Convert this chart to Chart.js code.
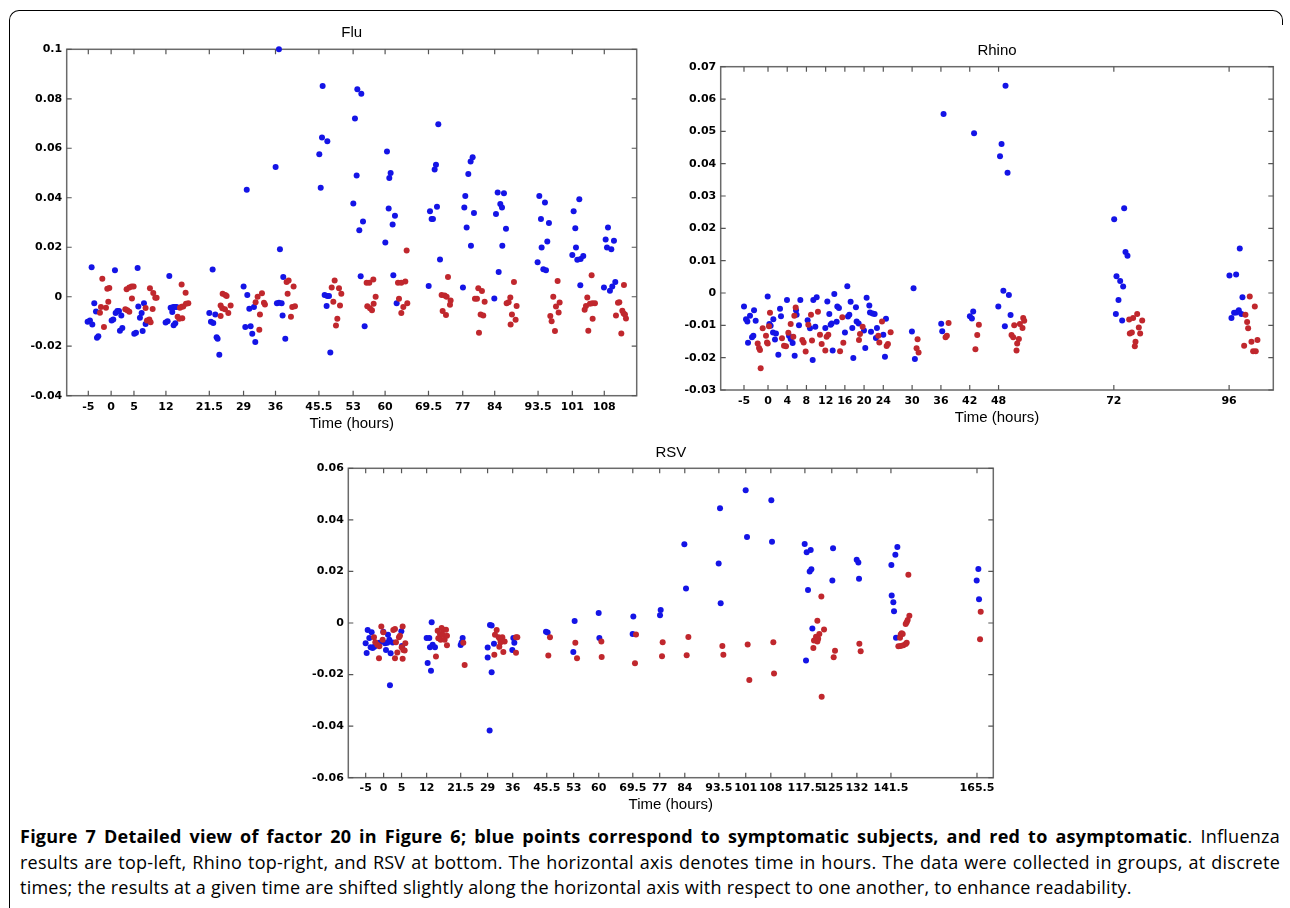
<!DOCTYPE html>
<html>
<head>
<meta charset="utf-8">
<script src="https://cdn.jsdelivr.net/npm/chart.js@4.4.1/dist/chart.umd.min.js"></script>
<style>
  html, body { margin: 0; padding: 0; background: #fff; }
  body { width: 1290px; height: 908px; position: relative; overflow: hidden; }
  .frame { position: absolute; left: 9px; top: 10px; width: 1260px; height: 905px;
           border-top: 1.5px solid #000; border-left: 1.5px solid #000; border-top-left-radius: 10px; }
  .corner { position: absolute; left: 1268px; top: 10px; width: 14px; height: 14px;
            border-top: 1.5px solid #000; border-right: 1.5px solid #000; border-top-right-radius: 10px; }
  .panel { position: absolute; }
  .caption { position: absolute; left: 20px; top: 824px; width: 1260px;
             font-family: "Open Sans", "Noto Sans", sans-serif; font-size: 18px; line-height: 25.7px;
             letter-spacing: 0.25px; color: #000; }
  .caption span.line { display: block; white-space: nowrap; }
</style>
</head>
<body>
<div class="frame"></div>
<div class="corner"></div>
<canvas id="flu" class="panel" width="640" height="420" style="left:10px;top:18px"></canvas>
<canvas id="rhino" class="panel" width="620" height="400" style="left:665px;top:36px"></canvas>
<canvas id="rsv" class="panel" width="712" height="380" style="left:292px;top:438px"></canvas>
<div class="caption">
  <span class="line fill"><b>Figure 7 Detailed view of factor 20 in Figure 6; blue points correspond to symptomatic subjects, and red to asymptomatic</b>. Influenza</span>
  <span class="line fill">results are top-left, Rhino top-right, and RSV at bottom. The horizontal axis denotes time in hours. The data were collected in groups, at discrete</span>
  <span class="line">times; the results at a given time are shifted slightly along the horizontal axis with respect to one another, to enhance readability.</span>
</div>
<script>
// sampling times (hours) used as axis ticks
const fluTicks = [-5, 0, 5, 12, 21.5, 29, 36, 45.5, 53, 60, 69.5, 77, 84, 93.5, 101, 108];
const rhinoTicks = [-5, 0, 4, 8, 12, 16, 20, 24, 30, 36, 42, 48, 72, 96];
const rsvTicks = [-5, 0, 5, 12, 21.5, 29, 36, 45.5, 53, 60, 69.5, 77, 84, 93.5, 101, 108, 117.5, 125, 132, 141.5, 165.5];

const fluYTicks = [-0.04, -0.02, 0, 0.02, 0.04, 0.06, 0.08, 0.1];
const rhinoYTicks = [-0.03, -0.02, -0.01, 0, 0.01, 0.02, 0.03, 0.04, 0.05, 0.06, 0.07];
const rsvYTicks = [-0.06, -0.04, -0.02, 0, 0.02, 0.04, 0.06];

// [time (h, jittered within group), factor 20 score]
const fluBlue = [
  [-4.27, 0.0119], [-5.15, -0.0101], [-4.64, -0.0096], [-4.12, -0.0112], [-3.69, -0.0026], [-3.32, -0.006], [-3.1, -0.0166], [-2.81, -0.016],
  [0.84, 0.0107], [0.11, -0.0096], [0.47, -0.0092], [0.99, -0.0066], [1.35, -0.0058], [1.72, -0.0058], [1.93, -0.0137], [2.45, -0.0126], [2.23, -0.0076],
  [5.8, 0.0116], [5.95, -0.0039], [6.31, -0.0085], [6.68, -0.0066], [7.19, -0.0026], [6.9, -0.0139], [7.55, -0.011], [5.07, -0.015], [5.44, -0.0146],
  [12.74, 0.0084], [11.93, -0.0104], [12.37, -0.0099], [13.03, -0.0045], [13.39, -0.0062], [13.61, -0.0042], [13.98, -0.0042], [14.34, -0.0042], [13.69, -0.0115], [14.05, -0.0107],
  [22.23, 0.011], [21.5, -0.0066], [21.86, -0.0101], [22.37, -0.0106], [22.81, -0.0072], [23.1, -0.0164], [23.32, -0.017], [23.69, -0.0234],
  [29.7, 0.0432], [29.01, 0.0041], [29.82, 0.0007], [29.38, -0.0122], [30.55, -0.0119], [30.26, -0.0049], [30.91, -0.015], [31.28, -0.0042], [31.57, -0.0183],
  [36.75, 0.1], [36.02, 0.0524], [36.97, 0.0192], [36.31, -0.0026], [36.75, -0.0024], [37.34, -0.0026], [37.7, 0.008], [37.55, -0.0076], [38.14, -0.017],
  [46.32, 0.0852], [46.18, 0.0644], [47.35, 0.0628], [45.59, 0.0576], [45.9, 0.044], [46.76, 0.0007], [47.35, 0.0003], [47.71, 0.0003], [47.19, -0.0037], [48.0, -0.0225],
  [53.92, 0.0839], [54.79, 0.082], [53.4, 0.072], [53.77, 0.049], [53.04, 0.0377], [55.16, 0.0304], [54.35, 0.0269], [54.65, 0.0083], [55.52, -0.0119],
  [60.41, 0.0587], [61.21, 0.05], [60.92, 0.048], [60.78, 0.0357], [62.16, 0.0327], [61.65, 0.0292], [60.05, 0.0219], [61.8, 0.0087], [62.53, -0.0026],
  [71.65, 0.0697], [71.14, 0.0533], [70.85, 0.0514], [69.83, 0.0345], [70.19, 0.0314], [70.48, 0.0314], [71.36, 0.0364], [72.02, 0.015], [69.54, 0.0043],
  [79.17, 0.0564], [78.73, 0.0547], [78.22, 0.0496], [77.56, 0.0407], [77.35, 0.0361], [79.46, 0.0338], [77.86, 0.028], [78.8, 0.0206], [77.05, 0.0037],
  [84.65, 0.0421], [86.03, 0.0418], [85.23, 0.0375], [85.6, 0.0361], [84.28, 0.0334], [86.47, 0.0275], [85.67, 0.0206], [84.87, 0.01], [83.92, -0.0007],
  [93.77, 0.0407], [95.01, 0.0381], [94.13, 0.0314], [95.88, 0.0298], [94.28, 0.0199], [95.52, 0.0223], [93.4, 0.0139], [94.65, 0.0111], [95.23, 0.0107],
  [102.53, 0.0394], [101.29, 0.0345], [101.65, 0.0277], [101.8, 0.0199], [101.0, 0.0169], [102.09, 0.0149], [102.82, 0.0152], [103.4, 0.0165], [102.75, 0.0046],
  [108.81, 0.028], [108.3, 0.0231], [110.12, 0.0226], [108.59, 0.0199], [109.54, 0.0192], [110.41, 0.006], [107.93, 0.0037], [109.24, 0.0024], [109.75, 0.0041]
];
const fluRed = [
  [-1.93, 0.0073], [-2.45, -0.0065], [-2.23, -0.0042], [-1.57, -0.0122], [-1.13, -0.0045], [-0.84, 0.0032], [-0.4, 0.0035], [-0.62, -0.002],
  [3.39, 0.003], [3.98, 0.0037], [4.49, 0.0041], [4.93, 0.0041], [4.56, -0.0007], [3.1, -0.0051], [3.54, -0.0055], [3.98, -0.0061],
  [8.5, 0.0034], [9.23, 0.0015], [9.67, -0.0004], [9.96, -0.0004], [7.55, -0.0046], [9.09, -0.005], [7.85, -0.0096], [8.36, -0.0092], [8.65, -0.0103],
  [15.44, 0.0049], [16.31, 0.0016], [16.9, -0.0026], [16.39, -0.0028], [15.8, -0.0039], [15.44, -0.0041], [15.07, -0.0045], [14.56, -0.0081], [14.93, -0.0089], [15.58, -0.0087],
  [24.42, 0.0012], [25.0, 0.0007], [25.29, 0.0003], [23.98, -0.0035], [24.34, -0.0047], [26.17, -0.0035], [24.93, -0.0051], [25.66, -0.0066], [23.98, -0.0078],
  [32.08, 0.0], [33.03, 0.0014], [31.64, -0.0022], [33.47, -0.0024], [33.69, -0.0031], [32.59, -0.0072], [32.45, -0.0133],
  [38.43, 0.006], [38.87, 0.0066], [39.96, 0.0041], [38.65, 0.0012], [39.67, -0.0042], [40.26, -0.0038], [39.38, -0.0081],
  [48.95, 0.0066], [48.3, 0.0037], [49.9, 0.0034], [50.41, 0.0012], [48.66, -0.002], [50.12, -0.0035], [49.54, -0.0089], [49.24, -0.0116],
  [55.96, 0.0057], [56.54, 0.0057], [57.42, 0.007], [57.93, 0.0], [56.1, -0.0038], [56.69, -0.0047], [57.13, -0.0055], [57.49, -0.0028],
  [64.72, 0.0187], [62.82, 0.0057], [63.55, 0.0057], [64.43, 0.0062], [63.04, -0.0008], [64.86, -0.0026], [63.99, -0.0042], [63.55, -0.0066],
  [73.77, 0.008], [72.38, 0.0007], [73.04, 0.0005], [73.48, 0.0], [74.35, -0.0015], [74.21, -0.0032], [72.6, -0.0058], [73.33, -0.0074],
  [80.41, 0.0034], [81.21, 0.0023], [79.68, -0.0008], [80.12, -0.0008], [81.8, -0.002], [80.92, -0.0072], [81.5, -0.0076], [80.56, -0.0146],
  [88.22, 0.006], [87.42, -0.0003], [86.62, -0.0026], [87.05, -0.0022], [88.8, -0.0037], [87.78, -0.0072], [88.58, -0.0093], [87.49, -0.0112],
  [97.78, 0.0064], [96.83, 0.0], [98.22, -0.0023], [97.42, -0.0039], [98.0, -0.0064], [96.18, -0.0078], [96.47, -0.0099], [97.2, -0.0139],
  [105.23, 0.0087], [104.28, -0.0003], [104.86, -0.0028], [105.38, -0.0026], [105.96, -0.0026], [103.99, -0.0037], [103.7, -0.0053], [105.45, -0.0089], [104.5, -0.0137],
  [112.31, 0.0047], [111.29, -0.0022], [111.0, -0.0024], [111.95, -0.0057], [112.24, -0.0068], [112.75, -0.0088], [112.53, -0.0072], [110.56, -0.0076], [111.73, -0.0149]
];

const rhinoBlue = [
  [-5.0, -0.0042], [-4.58, -0.0081], [-4.3, -0.0088], [-3.75, -0.007], [-4.16, -0.0154], [-3.33, -0.0137], [-3.05, -0.0132], [-2.91, -0.0053], [-2.57, -0.0086],
  [-0.07, -0.0011], [0.28, -0.0096], [0.55, -0.0101], [1.11, -0.0081], [1.04, -0.0122], [1.66, -0.0125], [1.45, -0.0144], [2.15, -0.0191], [2.5, -0.0049], [2.7, -0.0072],
  [3.95, -0.0022], [4.37, -0.0132], [4.72, -0.0142], [5.13, -0.0155], [5.55, -0.0194], [5.83, -0.0053], [5.96, -0.0067], [6.45, -0.01], [6.73, -0.0022],
  [8.25, -0.0084], [8.74, -0.0109], [9.3, -0.0207], [9.43, -0.0022], [10.13, -0.0013], [9.85, -0.0104],
  [11.93, -0.0108], [12.35, -0.0026], [12.76, -0.0065], [13.04, -0.0098], [13.25, -0.0094], [13.46, -0.0178], [13.8, -0.0003], [14.29, -0.0089], [14.43, -0.0042], [14.77, -0.0046],
  [16.02, -0.0122], [16.51, 0.0021], [16.65, -0.0073], [16.93, -0.0067], [17.2, -0.0027], [17.55, -0.0108], [17.76, -0.0201], [18.31, -0.0044], [18.45, -0.0088], [18.87, -0.0094],
  [19.98, -0.0116], [20.25, -0.017], [20.53, -0.0015], [21.09, -0.0039], [21.23, -0.006], [21.78, -0.0063], [22.2, -0.0065], [21.44, -0.012], [22.47, -0.0139], [22.68, -0.0108],
  [24.0, -0.0129], [24.35, -0.0197], [24.56, -0.008],
  [30.3, 0.0015], [29.96, -0.0119], [30.58, -0.0204],
  [36.55, 0.0554], [36.06, -0.0095], [36.27, -0.0118],
  [42.9, 0.0494], [42.72, -0.0057], [42.03, -0.0072], [42.45, -0.0079],
  [49.45, 0.0641], [48.62, 0.0461], [48.3, 0.0423], [49.87, 0.0372], [49.0, 0.0007], [50.15, -0.0006], [47.95, -0.0042], [50.5, -0.0068], [49.31, -0.0103],
  [72.07, 0.0228], [74.15, 0.0262], [74.43, 0.0127], [74.84, 0.0115], [72.55, 0.0052], [73.32, 0.0037], [73.94, 0.002], [72.97, -0.0022], [72.42, -0.0065], [73.73, -0.0085],
  [98.22, 0.0138], [96.07, 0.0054], [97.46, 0.0057], [98.78, -0.0013], [98.02, -0.0053], [97.53, -0.006], [97.04, -0.0061], [98.57, -0.0065], [96.49, -0.0077]
];
const rhinoRed = [
  [-2.15, -0.0156], [-1.87, -0.017], [-1.67, -0.0176], [-1.53, -0.0233], [-1.11, -0.0109], [-0.42, -0.0132], [-0.21, -0.0153], [-0.07, -0.0156], [0.41, -0.0061], [0.2, -0.0103],
  [2.91, -0.014], [3.33, -0.0163], [3.75, -0.0165], [4.23, -0.0123], [4.72, -0.0096], [5.27, -0.0135], [5.48, -0.007], [5.76, -0.0045],
  [7.14, -0.0145], [7.42, -0.0153], [7.84, -0.0181], [8.39, -0.0098], [8.95, -0.0067], [9.16, -0.0147],
  [10.4, -0.0058], [10.82, -0.0129], [11.17, -0.0158], [11.93, -0.0178], [12.2, -0.0135], [12.55, -0.0129],
  [15.0, -0.018], [15.47, -0.0075], [15.68, -0.0154],
  [18.94, -0.0145], [19.15, -0.0127], [19.7, -0.0104],
  [22.96, -0.0132], [23.17, -0.0153], [23.73, -0.0088], [24.7, -0.0164], [24.97, -0.0158], [25.53, -0.0121],
  [31.14, -0.0143], [30.93, -0.0171], [31.35, -0.0184],
  [37.59, -0.0093], [37.24, -0.0132], [36.97, -0.0137],
  [43.9, -0.0098], [43.56, -0.013], [43.18, -0.0174],
  [51.26, -0.01], [52.44, -0.0096], [53.13, -0.0077], [53.34, -0.0086], [52.99, -0.0108], [50.7, -0.013], [51.05, -0.0137], [52.23, -0.0142], [51.88, -0.0156], [51.74, -0.0178],
  [76.86, -0.0065], [76.02, -0.0077], [75.19, -0.0082], [77.9, -0.0085], [77.2, -0.0107], [75.33, -0.0125], [75.75, -0.0122], [77.48, -0.0125], [76.51, -0.0151], [76.37, -0.0165],
  [100.3, -0.0011], [101.35, -0.0042], [99.4, -0.0067], [99.75, -0.009], [99.96, -0.0109], [101.9, -0.0145], [100.65, -0.0151], [99.13, -0.0163], [101.0, -0.018], [101.55, -0.018]
];

const rsvBlue = [
  [-5.01, -0.0079], [-4.73, -0.0116], [-4.45, -0.0027], [-3.99, -0.0058], [-3.62, -0.0094], [-3.06, -0.0097], [-2.6, -0.0092], [-3.34, -0.0036], [-1.2, -0.0077],
  [-0.08, -0.0034], [0.38, -0.0079], [1.03, -0.0077], [0.66, -0.0105], [1.22, -0.0046], [1.59, -0.0065], [1.96, -0.0117], [1.77, -0.0241], [2.52, -0.0076], [4.94, -0.0032], [5.12, -0.0089],
  [12.0, -0.0058], [12.74, -0.0058], [13.4, 0.0003], [12.93, -0.0094], [13.68, -0.0084], [14.33, -0.0094], [12.28, -0.0155], [13.21, -0.0185],
  [22.04, -0.0058], [21.49, -0.0085], [21.76, -0.0076],
  [29.67, -0.0008], [30.13, -0.001], [29.02, -0.0095], [29.02, -0.0134], [30.78, -0.008], [30.13, -0.0191], [29.57, -0.0417],
  [36.18, -0.0058], [36.46, -0.0077], [35.9, -0.0105],
  [45.29, -0.0034], [45.75, -0.0037],
  [53.28, 0.0008], [52.91, -0.0112],
  [59.98, 0.0039], [60.17, -0.0058],
  [69.65, 0.0025], [69.46, -0.0043],
  [77.28, 0.005], [77.09, 0.003],
  [83.88, 0.0305], [84.34, 0.0134],
  [93.83, 0.0445], [93.45, 0.0231], [94.01, 0.0077],
  [100.98, 0.0515], [101.36, 0.0334],
  [108.14, 0.0476], [108.33, 0.0315],
  [117.44, 0.0306], [118.0, 0.0274], [119.12, 0.0283], [118.84, 0.02], [119.3, 0.0208], [118.37, 0.0128], [119.58, -0.0021], [117.81, -0.0145],
  [125.35, 0.029], [125.16, 0.0165],
  [131.95, 0.0245], [132.41, 0.0235], [132.6, 0.0172],
  [143.29, 0.0295], [142.73, 0.0265], [141.62, 0.0225], [141.71, 0.0107], [142.17, 0.008], [142.36, 0.0046], [142.92, -0.0057],
  [165.88, 0.0209], [165.42, 0.0165], [166.07, 0.0092]
];
const rsvRed = [
  [-2.69, -0.0055], [-2.32, -0.0075], [-1.76, -0.0084], [-1.2, -0.009], [-1.29, -0.0137], [-0.64, -0.0014], [-0.27, -0.0065], [-0.08, -0.0036],
  [2.7, -0.0027], [3.17, -0.0023], [3.45, -0.0075], [3.82, -0.0114], [3.17, -0.0137], [4.28, -0.0055], [4.56, -0.0049], [5.31, -0.0014], [5.03, -0.0094], [5.49, -0.0105], [5.87, -0.0107], [5.31, -0.0139], [6.05, -0.0079],
  [14.6, -0.013], [15.07, -0.003], [15.72, -0.0043], [16.18, -0.0019], [16.65, -0.0026], [17.4, -0.0026], [15.26, -0.0059], [15.91, -0.0065], [16.46, -0.0046], [17.02, -0.0065], [17.67, -0.0049], [17.67, -0.0086],
  [22.23, -0.0077], [22.6, -0.0163],
  [31.53, -0.0027], [31.06, -0.0046], [32.08, -0.0055], [33.11, -0.0055], [32.64, -0.0075], [32.27, -0.0092], [33.39, -0.0112], [30.88, -0.0123], [33.76, -0.0072], [32.46, -0.0062],
  [36.92, -0.0055], [37.29, -0.0055], [36.92, -0.0115],
  [46.4, -0.0055], [45.94, -0.0126],
  [53.47, -0.0077], [53.94, -0.0137],
  [60.73, -0.0072], [60.82, -0.0132],
  [70.39, -0.0045], [70.11, -0.0156],
  [77.83, -0.0075], [77.65, -0.0129],
  [85.0, -0.0054], [84.53, -0.0125],
  [94.48, -0.0089], [94.76, -0.0123],
  [101.54, -0.0083], [102.0, -0.0221],
  [108.7, -0.0075], [108.89, -0.0196],
  [122.09, 0.0103], [120.98, 0.0009], [122.84, -0.0025], [121.53, -0.0043], [120.6, -0.0053], [120.04, -0.0068], [120.98, -0.0072], [119.86, -0.0097], [122.18, -0.0286], [121.2, -0.0061],
  [125.9, -0.0108], [125.53, -0.0133],
  [132.69, -0.008], [133.06, -0.011],
  [146.36, 0.0187], [146.64, 0.0028], [146.17, 0.0012], [145.9, 0.0003], [145.62, -0.0004], [144.5, -0.004], [144.22, -0.0045], [144.78, -0.0043], [144.03, -0.0057],
  [143.57, -0.009], [144.22, -0.0089], [144.97, -0.0086], [145.62, -0.0081], [145.9, -0.0077],
  [166.54, 0.0044], [166.35, -0.0063]
];

const BLUE = '#1414e6';
const RED = '#c0272d';
const TICK_FONT = { family: '"DejaVu Sans", sans-serif', size: 11, weight: 'bold' };
const LABEL_FONT = { family: '"Liberation Sans", Arial, sans-serif', size: 15 };

// box with inward ticks on all four sides, plus the panel title
const boxPlugin = {
  id: 'boxPlugin',
  beforeDatasetsDraw(chart, args, opts) {
    const { ctx, chartArea: a } = chart;
    const x = chart.scales.x, y = chart.scales.y;
    ctx.save();
    ctx.strokeStyle = '#6a6a6a';
    ctx.lineWidth = 1.5;
    ctx.strokeRect(a.left, a.top, a.right - a.left, a.bottom - a.top);
    ctx.strokeStyle = '#555';
    ctx.lineWidth = 1.2;
    ctx.beginPath();
    x.ticks.forEach(t => {
      const px = x.getPixelForValue(t.value);
      ctx.moveTo(px, a.bottom); ctx.lineTo(px, a.bottom - 5);
      ctx.moveTo(px, a.top); ctx.lineTo(px, a.top + 5);
    });
    y.ticks.forEach(t => {
      const py = y.getPixelForValue(t.value);
      ctx.moveTo(a.left, py); ctx.lineTo(a.left + 5, py);
      ctx.moveTo(a.right, py); ctx.lineTo(a.right - 5, py);
    });
    ctx.stroke();
    ctx.fillStyle = '#000';
    ctx.font = '15px "Liberation Sans", Arial, sans-serif';
    ctx.textAlign = 'center';
    ctx.textBaseline = 'middle';
    ctx.fillText(opts.text, (a.left + a.right) / 2, a.top - opts.gap);
    ctx.restore();
  }
};

function drawPanel(id, title, blue, red, xTicks, yTicks, xMin, xMax, box) {
  const pts = arr => arr.map(p => ({ x: p[0], y: p[1] }));
  return new Chart(document.getElementById(id), {
    type: 'scatter',
    data: {
      datasets: [
        { data: pts(red), backgroundColor: RED, borderWidth: 0, pointRadius: 3, clip: false },
        { data: pts(blue), backgroundColor: BLUE, borderWidth: 0, pointRadius: 3, clip: false }
      ]
    },
    options: {
      responsive: false,
      animation: false,
      events: [],
      layout: { padding: { top: box.top, right: box.right, left: 0, bottom: 0 } },
      plugins: {
        legend: { display: false },
        tooltip: { enabled: false },
        boxPlugin: { text: title, gap: box.gap }
      },
      scales: {
        x: {
          type: 'linear',
          min: xMin,
          max: xMax,
          afterBuildTicks: s => { s.ticks = xTicks.map(v => ({ value: v })); },
          afterFit: s => { s.height = box.xh; },
          grid: { display: false, drawTicks: false },
          border: { display: false },
          ticks: {
            autoSkip: false, maxRotation: 0, minRotation: 0,
            padding: box.xpad, color: '#000', font: TICK_FONT,
            callback: v => String(v)
          },
          title: {
            display: true, text: 'Time (hours)', color: '#000', font: LABEL_FONT,
            padding: { top: 0, bottom: box.tpad }
          }
        },
        y: {
          type: 'linear',
          min: yTicks[0],
          max: yTicks[yTicks.length - 1],
          afterBuildTicks: s => { s.ticks = yTicks.map(v => ({ value: v })); },
          afterFit: s => { s.width = box.yw; },
          grid: { display: false, drawTicks: false },
          border: { display: false },
          ticks: { padding: 4.5, color: '#000', font: TICK_FONT, callback: v => String(v) }
        }
      }
    },
    plugins: [boxPlugin]
  });
}

drawPanel('flu', 'Flu', fluBlue, fluRed, fluTicks, fluYTicks, -9.73, 115.1,
  { top: 31.3, right: 13.3, yw: 56.7, xh: 42.3, xpad: 4.4, tpad: 5, gap: 16.6 });
drawPanel('rhino', 'Rhino', rhinoBlue, rhinoRed, rhinoTicks, rhinoYTicks, -9.85, 105.2,
  { top: 30.7, right: 11.7, yw: 55.7, xh: 46, xpad: 4.4, tpad: 9, gap: 15.5 });
drawPanel('rsv', 'RSV', rsvBlue, rsvRed, rsvTicks, rsvYTicks, -9.85, 170.05,
  { top: 30.3, right: 10.7, yw: 56.3, xh: 40.3, xpad: 3.4, tpad: 4.5, gap: 15 });

// stretch the first two caption lines to the full column width
document.querySelectorAll('.caption .fill').forEach(line => {
  const range = document.createRange();
  range.selectNodeContents(line);
  const natural = range.getBoundingClientRect().width;
  const gaps = (line.textContent.trim().match(/ /g) || []).length;
  if (gaps) line.style.wordSpacing = ((1260 - natural) / gaps) + 'px';
});
</script>
</body>
</html>
